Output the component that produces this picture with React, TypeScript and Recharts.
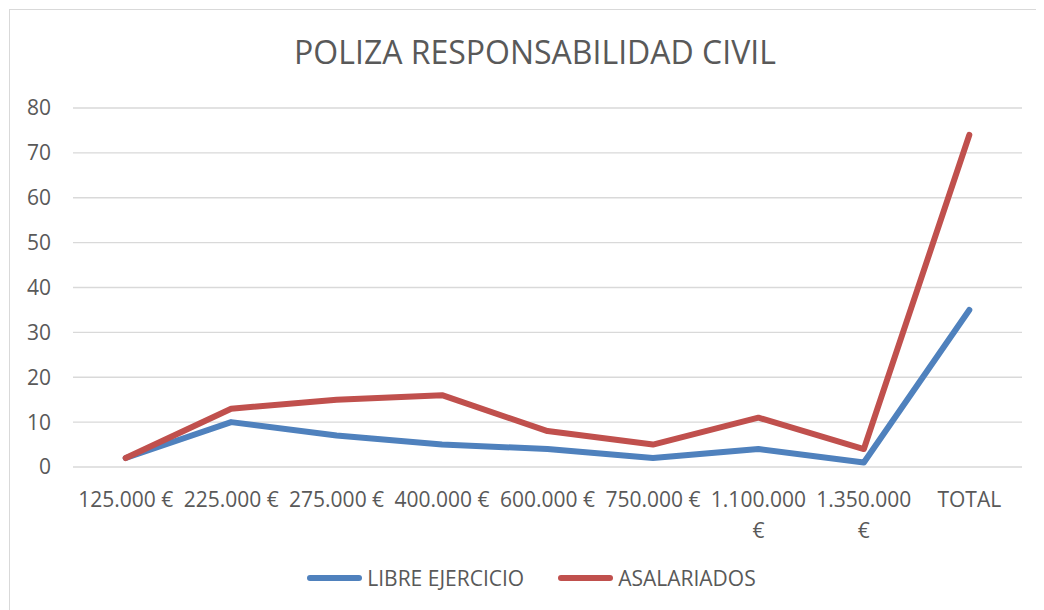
import { LineChart, Line, XAxis, YAxis, CartesianGrid, Legend } from 'recharts'

const categories = ['125.000 €', '225.000 €', '275.000 €', '400.000 €', '600.000 €', '750.000 €', '1.100.000 €', '1.350.000 €', 'TOTAL']
const libreEjercicio = [2, 10, 7, 5, 4, 2, 4, 1, 35]
const asalariados = [2, 13, 15, 16, 8, 5, 11, 4, 74]
const yTicks = [0, 10, 20, 30, 40, 50, 60, 70, 80]

const SERIES = [
  { key: 'libre', name: 'LIBRE EJERCICIO', color: '#4F81BD' },
  { key: 'asal', name: 'ASALARIADOS', color: '#C0504D' },
]

const FONT = '"Open Sans", sans-serif'
const TEXT = '#595959'

const data = categories.map((c, i) => ({
  name: c,
  libre: libreEjercicio[i],
  asal: asalariados[i],
}))

function XTick({ x, y, payload }: any) {
  const label: string = payload.value
  const lines = label.length > 9 ? [label.slice(0, label.lastIndexOf(' ')), label.slice(label.lastIndexOf(' ') + 1)] : [label]
  return (
    <text x={x} y={y} textAnchor="middle" fill={TEXT} fontSize={21} fontFamily={FONT}>
      {lines.map((l, i) => (
        <tspan key={i} x={x} dy={i === 0 ? 32 : 31}>{l}</tspan>
      ))}
    </text>
  )
}

function LegendContent() {
  return (
    <div style={{ display: 'flex', justifyContent: 'center', alignItems: 'center', height: 30, paddingLeft: 31, fontFamily: FONT, fontSize: 21, color: TEXT }}>
      {SERIES.map((s, i) => (
        <div key={s.key} style={{ display: 'flex', alignItems: 'center', marginLeft: i === 0 ? 0 : 34 }}>
          <span style={{ display: 'inline-block', width: 55, height: 6, borderRadius: 3, background: s.color, marginRight: 5 }} />
          <span>{s.name}</span>
        </div>
      ))}
    </div>
  )
}

export default function App() {
  return (
    <div style={{ position: 'relative', top: 1, left: 1, width: 1100, height: 700, border: '1px solid #d9d9d9', background: '#fff' }}>
      <div style={{ position: 'absolute', top: 20, left: 8, width: 1034, textAlign: 'center', fontFamily: FONT, fontSize: 32, color: TEXT }}>
        POLIZA RESPONSABILIDAD CIVIL
      </div>
      <LineChart width={1034} height={600} data={data} margin={{ top: 98, right: 22, bottom: 17, left: 0 }}>
        <CartesianGrid vertical={false} stroke="#d9d9d9" strokeWidth={1.3} />
        <XAxis
          dataKey="name"
          axisLine={false}
          tickLine={false}
          interval={0}
          height={96}
          padding={{ left: 52.7, right: 52.7 }}
          tick={<XTick />}
        />
        <YAxis
          domain={[0, 80]}
          ticks={yTicks}
          width={63}
          axisLine={false}
          tickLine={false}
          tickSize={0}
          tickMargin={22}
          tick={{ fill: TEXT, fontSize: 21, fontFamily: FONT }}
        />
        <Legend verticalAlign="bottom" height={30} content={<LegendContent />} />
        {SERIES.map((s) => (
          <Line
            key={s.key}
            type="linear"
            dataKey={s.key}
            name={s.name}
            stroke={s.color}
            strokeWidth={6}
            strokeLinecap="round"
            strokeLinejoin="round"
            dot={false}
            isAnimationActive={false}
          />
        ))}
      </LineChart>
    </div>
  )
}
